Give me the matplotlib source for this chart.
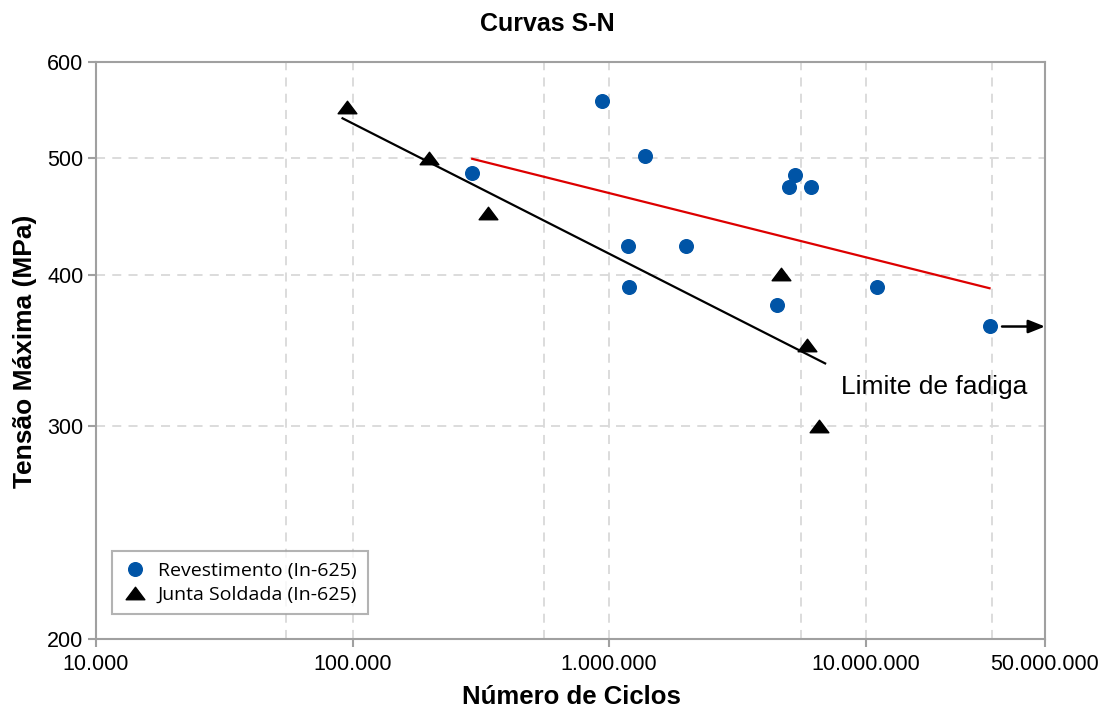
import matplotlib
matplotlib.use("Agg")
import matplotlib.pyplot as plt
from matplotlib.path import Path
from matplotlib.ticker import FixedLocator, NullLocator, FixedFormatter

# Data
rev_N = [292000, 940000, 1380000, 5300000, 5020000, 6100000, 1180000, 2000000, 1200000, 4530000, 11100000, 30500000]
rev_S = [486, 557, 502, 484, 473, 473, 423, 423, 391, 378, 391, 363]
junta_N = [95500, 198000, 336000, 4690000, 5920000, 6580000]
junta_S = [551, 500, 450, 401, 350, 300]
fit_junta_N = [91400, 6950000]
fit_junta_S = [539, 338]
fit_rev_N = [292600, 30400000]
fit_rev_S = [499, 390]
runout_N = [34000000, 50000000]
runout_S = [362.6, 362.6]
x_ticks = [10000, 100000, 1000000, 10000000, 50000000]
x_ticklabels = ["10.000", "100.000", "1.000.000", "10.000.000", "50.000.000"]
y_ticks = [200, 300, 400, 500, 600]
y_ticklabels = ["200", "300", "400", "500", "600"]
x_grid = [55000, 100000, 555000, 1000000, 5600000, 10000000, 31000000]
y_grid = [300, 400, 500]

plt.rcParams['font.family'] = ['Liberation Sans', 'DejaVu Sans']

W, H = 1100, 709
fig = plt.figure(figsize=(W / 100, H / 100), dpi=100)
ax = fig.add_axes([96/W, 1-639/H, (1045-96)/W, (639-62)/H])
ax.set_xscale('log')
ax.set_yscale('log')
ax.set_xlim(10000, 50000000)
ax.set_ylim(200, 600)

gc = '#d9d9d9'
for g in x_grid:
    ax.axvline(g, color=gc, lw=1.3, ls=(0, (5, 4)), zorder=0)
for g in y_grid:
    ax.axhline(g, color=gc, lw=1.3, ls=(0, (5, 4)), zorder=0)

ax.plot(fit_junta_N, fit_junta_S, color='black', lw=1.6, zorder=2)
ax.plot(fit_rev_N, fit_rev_S, color='#dd0000', lw=1.6, zorder=2)

tri = Path([(-1.5, -1), (1.5, -1), (0, 1), (-1.5, -1)],
           [Path.MOVETO, Path.LINETO, Path.LINETO, Path.CLOSEPOLY])
ax.plot(rev_N, rev_S, 'o', color='#0054a6', ms=9.8, mec='#0054a6', ls='none',
        label='Revestimento (In-625)', zorder=3)
ax.plot(junta_N, junta_S, marker=tri, color='black', ms=13.5, ls='none',
        label='Junta Soldada (In-625)', zorder=3)

ax.annotate('', xy=(runout_N[1], runout_S[1]), xytext=(runout_N[0], runout_S[0]),
            arrowprops=dict(arrowstyle='-|>,head_length=1.0,head_width=0.4',
                            color='black', lw=1.8, shrinkA=0, shrinkB=0),
            zorder=4, annotation_clip=False)

ax.text(6900000 * 1.16, 323, 'Limite de fadiga', fontsize=19, ha='left', va='center')

ax.xaxis.set_major_locator(FixedLocator(x_ticks))
ax.xaxis.set_major_formatter(FixedFormatter(x_ticklabels))
ax.xaxis.set_minor_locator(NullLocator())
ax.yaxis.set_major_locator(FixedLocator(y_ticks))
ax.yaxis.set_major_formatter(FixedFormatter(y_ticklabels))
ax.yaxis.set_minor_locator(NullLocator())

sc = '#a0a0a0'
for s in ax.spines.values():
    s.set_color(sc)
    s.set_linewidth(1.5)
ax.tick_params(axis='both', colors=sc, length=6, width=1.5, labelsize=15.5,
               labelcolor='black', direction='out')
ax.tick_params(axis='x', pad=5)
ax.tick_params(axis='y', pad=3)

fig.text(547/W, 1-24/H, 'Curvas S-N', fontsize=18, fontweight='bold',
         ha='center', va='center')
fig.text(571/W, 1-697/H, 'Número de Ciclos', fontsize=18.5, fontweight='bold',
         ha='center', va='center')
fig.text(25/W, 1-351/H, 'Tensão Máxima (MPa)', fontsize=19, fontweight='bold',
         ha='center', va='center', rotation=90)

leg = ax.legend(loc='lower left', bbox_to_anchor=(0.017, 0.043),
                prop={'family': ['Open Sans', 'DejaVu Sans'], 'size': 14},
                frameon=True, fancybox=False, edgecolor='#a0a0a0',
                handletextpad=0.5, borderpad=0.55, labelspacing=0.3,
                handlelength=1.3, borderaxespad=0)
leg.get_frame().set_linewidth(1.5)

fig.savefig('out.png', dpi=100)
